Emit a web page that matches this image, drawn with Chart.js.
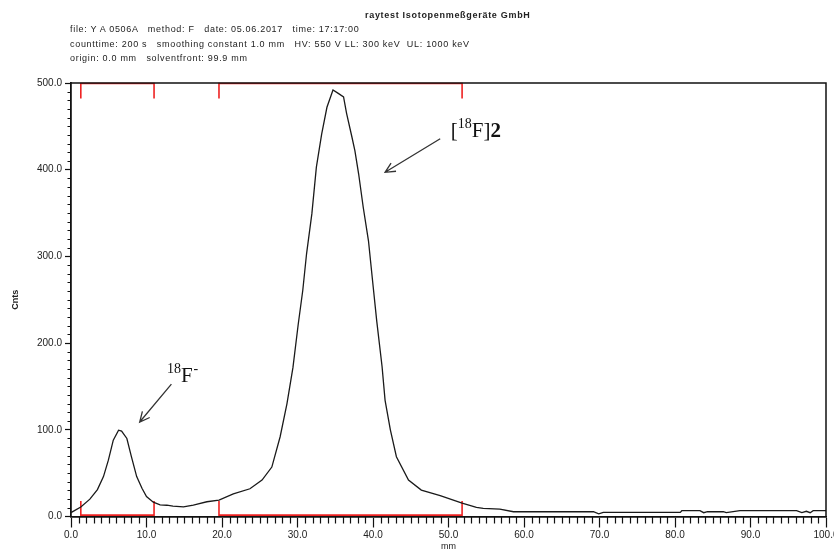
<!DOCTYPE html>
<html lang="de">
<head>
    <meta charset="UTF-8">
    <title>Radio-TLC</title>
    <style>
        body {
            margin: 0;
            background: #fff;
            font-family: "Liberation Sans", Arial, sans-serif;
        }
        .wrap {
            position: relative;
            width: 834px;
            height: 552px;
        }
        .hdr {
            position: absolute;
            font-size: 9px;
            letter-spacing: 0.7px;
            color: #222;
            white-space: pre;
            line-height: 10px;
        }
    </style>
</head>
<body>
    <div class="wrap">
        <canvas id="tlcChart" width="834" height="552"></canvas>
        <div class="hdr" style="left:365px; top:10px; font-weight:bold;">raytest Isotopenmeßgeräte GmbH</div>
        <div class="hdr" style="left:70px; top:24px;">file: Y A 0506A   method: F   date: 05.06.2017   time: 17:17:00</div>
        <div class="hdr" style="left:70px; top:39px;">counttime: 200 s   smoothing constant 1.0 mm   HV: 550 V LL: 300 keV  UL: 1000 keV</div>
        <div class="hdr" style="left:70px; top:53px;">origin: 0.0 mm   solventfront: 99.9 mm</div>
    </div>

    <script src="https://cdn.jsdelivr.net/npm/chart.js"></script>
    <script>
// Messdaten (Position in mm, Zählrate)
const positionsMm = [0, 1.3, 2.5, 3.5, 4.3, 4.95, 5.6, 6.3, 6.7, 7.4, 8.0, 8.7, 9.4, 10.0, 10.9, 11.8, 12.7, 13.5, 14.9, 16.2, 16.6, 18.0, 19.6,
    21.5, 23.7, 25.3, 26.6, 27.7, 28.6, 29.4, 30.1, 30.7, 31.2, 31.9, 32.5, 33.2, 33.9, 34.7, 35.4, 36.1, 36.5, 37.2, 37.6, 38.1, 38.7, 39.4,
    40.0, 40.5, 41.2, 41.6, 42.3, 43.1, 44.7, 46.4, 48.9, 51.8, 53.7, 54.6, 56.8, 58.6, 69.2, 69.9, 70.5, 80.7, 80.9, 83.3, 83.8, 84.3,
    86.4, 86.8, 88.6, 96.1, 96.8, 97.4, 97.9, 98.3, 100];
const counts = [4.5, 11, 20, 31, 46, 65, 88, 99.5, 98.5, 90, 69, 46, 32.5, 23, 16.5, 13.5, 13, 12, 11, 13, 14, 17, 19,
    26, 32, 42, 57, 92, 130, 172, 222, 261, 303, 349, 403, 441, 472, 492, 488, 484, 465, 438, 422, 395, 357, 318,
    267, 225, 173, 134, 100, 69, 42, 30.5, 24, 15.5, 10.5, 9.4, 8.6, 5.5, 5.5, 3, 4.8, 4.8, 6.7, 6.7, 4.4, 5.5,
    5.5, 4.4, 6.7, 6.7, 4.4, 6, 4.4, 6.7, 6.7];

// Integrationsbereiche (mm)
const regionStarts = [1.3, 19.6];
const regionEnds = [11.0, 51.8];

// Achsen
const xTicks = [0, 10, 20, 30, 40, 50, 60, 70, 80, 90, 100];
const yTicks = [0, 100, 200, 300, 400, 500];

// Peak-Beschriftungen
const peakLabels = [
    { sup: '18', main: 'F', tail: '-', at: [12.7, 155], from: [13.3, 155], to: [9.1, 109] },
    { pre: '[', sup: '18', main: 'F]', bold: '2', at: [50.3, 438], from: [48.9, 438], to: [41.6, 397] }
];

const curve = positionsMm.map((x, i) => ({ x: x, y: counts[i] }));

// rote Klammern oben und unten
const bracketSets = [];
regionStarts.forEach((s, i) => {
    const e = regionEnds[i];
    bracketSets.push([{ x: s, y: 482 }, { x: s, y: 499.4 }, { x: e, y: 499.4 }, { x: e, y: 482 }]);
    bracketSets.push([{ x: s, y: 18 }, { x: s, y: 1.6 }, { x: e, y: 1.6 }, { x: e, y: 18 }]);
});

// Rahmen + kleine Teilstriche
const framePlugin = {
    id: 'frame',
    afterDraw(chart) {
        const c = chart.ctx, a = chart.chartArea;
        const xs = chart.scales.x, ys = chart.scales.y;
        c.save();
        c.strokeStyle = '#111';
        c.lineWidth = 1.5;
        c.beginPath();
        c.moveTo(a.left, a.top); c.lineTo(a.right, a.top); c.lineTo(a.right, a.bottom);
        c.stroke();
        c.lineWidth = 1.2;
        c.beginPath();
        for (let v = xs.min; v <= xs.max; v++) {
            if (v % 10 === 0) continue;
            const px = Math.round(xs.getPixelForValue(v)) + 0.5;
            c.moveTo(px, a.bottom); c.lineTo(px, a.bottom + 7);
        }
        for (let v = ys.min; v <= ys.max; v += 10) {
            if (v % 100 === 0) continue;
            const py = Math.round(ys.getPixelForValue(v)) + 0.5;
            c.moveTo(a.left, py); c.lineTo(a.left - 3.5, py);
        }
        c.stroke();
        c.restore();
    }
};

function arrow(c, x1, y1, x2, y2) {
    const ang = Math.atan2(y2 - y1, x2 - x1);
    const h = 11;
    c.beginPath();
    c.moveTo(x1, y1); c.lineTo(x2, y2);
    c.moveTo(x2 - h * Math.cos(ang - 0.45), y2 - h * Math.sin(ang - 0.45));
    c.lineTo(x2, y2);
    c.lineTo(x2 - h * Math.cos(ang + 0.45), y2 - h * Math.sin(ang + 0.45));
    c.stroke();
}

const labelPlugin = {
    id: 'peakLabels',
    afterDatasetsDraw(chart) {
        const c = chart.ctx;
        const xs = chart.scales.x, ys = chart.scales.y;
        c.save();
        c.fillStyle = '#111';
        c.strokeStyle = '#333';
        c.lineWidth = 1.3;
        c.textBaseline = 'alphabetic';
        peakLabels.forEach(l => {
            let x = xs.getPixelForValue(l.at[0]);
            const y = ys.getPixelForValue(l.at[1]);
            const big = '21px "Liberation Serif", serif';
            const small = '14px "Liberation Serif", serif';
            if (l.pre) { c.font = big; c.fillText(l.pre, x, y); x += c.measureText(l.pre).width; }
            c.font = small; c.fillText(l.sup, x, y - 9); x += c.measureText(l.sup).width;
            c.font = big; c.fillText(l.main, x, y); x += c.measureText(l.main).width;
            if (l.tail) { c.font = small; c.fillText(l.tail, x + 1, y - 9); }
            if (l.bold) { c.font = 'bold ' + big; c.fillText(l.bold, x, y); }
            arrow(c, xs.getPixelForValue(l.from[0]), ys.getPixelForValue(l.from[1]) + 2,
                xs.getPixelForValue(l.to[0]), ys.getPixelForValue(l.to[1]));
        });
        c.restore();
    }
};

const tickFont = { family: '"Liberation Sans", Arial, sans-serif', size: 10 };

new Chart(document.getElementById('tlcChart').getContext('2d'), {
    type: 'line',
    data: {
        datasets: [{
            data: curve,
            borderColor: '#1a1a1a',
            borderWidth: 1.3,
            pointRadius: 0,
            tension: 0
        }].concat(bracketSets.map(b => ({
            data: b,
            borderColor: '#ee2222',
            borderWidth: 1.6,
            pointRadius: 0,
            tension: 0,
            clip: false
        })))
    },
    options: {
        responsive: false,
        animation: false,
        layout: { padding: { top: 83, right: 8, left: 0, bottom: 0 } },
        plugins: { legend: { display: false }, tooltip: { enabled: false } },
        scales: {
            x: {
                type: 'linear',
                min: 0, max: 100,
                afterBuildTicks: s => { s.ticks = xTicks.map(v => ({ value: v })); },
                afterFit: s => { s.height = 35.5; s.paddingLeft = 0; s.paddingRight = 0; },
                ticks: { callback: v => v.toFixed(1), font: tickFont, color: '#222', maxRotation: 0, padding: 2 },
                grid: { drawOnChartArea: false, color: '#111', tickLength: 11, tickWidth: 1.2 },
                border: { color: '#111', width: 1.8 },
                title: { display: true, text: 'mm', font: { family: tickFont.family, size: 9 }, color: '#222', padding: 0 }
            },
            y: {
                min: 0, max: 500,
                afterBuildTicks: s => { s.ticks = yTicks.map(v => ({ value: v })); },
                afterFit: s => { s.width = 71; s.paddingTop = 0; s.paddingBottom = 0; },
                ticks: { callback: v => v.toFixed(1), font: tickFont, color: '#222', padding: 3 },
                grid: { drawOnChartArea: false, color: '#111', tickLength: 6, tickWidth: 1.2 },
                border: { color: '#111', width: 1.8 },
                title: { display: true, text: 'Cnts', font: { family: tickFont.family, size: 9, weight: 'bold' }, color: '#222', padding: { top: 10 } }
            }
        }
    },
    plugins: [framePlugin, labelPlugin]
});
    </script>
</body>
</html>
